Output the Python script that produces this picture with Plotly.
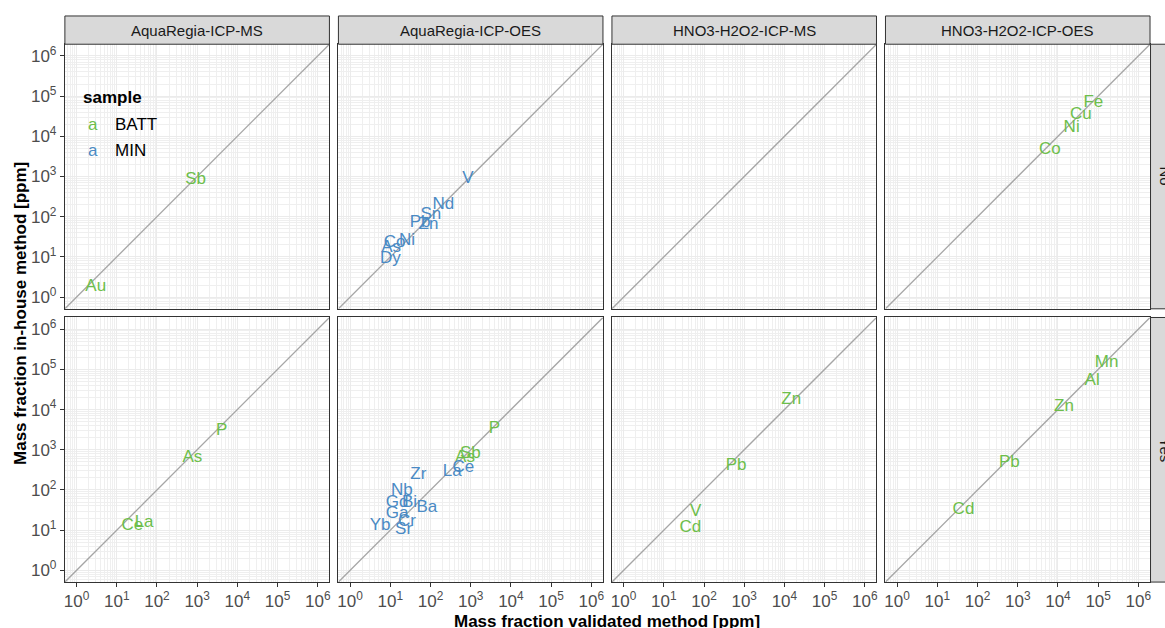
import plotly.graph_objects as go

W, H = 1165, 628


def px(x):
    return x / W


def py(y):
    return (H - y) / H


methods = ["AquaRegia-ICP-MS", "AquaRegia-ICP-OES", "HNO3-H2O2-ICP-MS", "HNO3-H2O2-ICP-OES"]
rows = ["No", "Yes"]

# Data (ppm)
element = ["Sb", "Au",
           "V", "Nd", "Sn", "Zn", "Pb", "Co", "Ni", "As", "Dy",
           "Fe", "Cu", "Ni", "Co",
           "P", "As", "Ce", "La",
           "P", "Sb", "As", "Ce", "La", "Zr", "Nb", "Gd", "Bi", "Ba", "Ga", "Cr", "Yb", "Sr",
           "Zn", "Pb", "V", "Cd",
           "Mn", "Al", "Zn", "Pb", "Cd"]
method = (["AquaRegia-ICP-MS"] * 2 + ["AquaRegia-ICP-OES"] * 9 + ["HNO3-H2O2-ICP-OES"] * 4 +
          ["AquaRegia-ICP-MS"] * 4 + ["AquaRegia-ICP-OES"] * 14 + ["HNO3-H2O2-ICP-MS"] * 4 +
          ["HNO3-H2O2-ICP-OES"] * 5)
row = (["No"] * 15 + ["Yes"] * 27)
sample = (["BATT"] * 2 + ["MIN"] * 9 + ["BATT"] * 4 + ["BATT"] * 4 + ["BATT"] * 3 + ["MIN"] * 11 +
          ["BATT"] * 4 + ["BATT"] * 5)
validated = [912, 3.0,
             851, 209, 102, 89, 55, 12.8, 26, 10.5, 10,
             75900, 37200, 21900, 6300,
             4070, 759, 24.5, 47.9,
             3890, 977, 724, 661, 347, 50, 19.5, 14.8, 30.2, 81, 14.8, 25.9, 5.6, 21.4,
             14800, 631, 61.7, 45.7,
             162000, 70800, 14100, 617, 44.7]
inhouse = [813, 1.8,
           871, 195, 112, 63, 69, 22.4, 25.6, 16.5, 8.9,
           69200, 33900, 16600, 4570,
           2950, 617, 12.9, 15.1,
           3310, 813, 617, 363, 288, 236, 97.7, 46.8, 46.8, 36.6, 26.3, 16.5, 13, 10.2,
           17400, 407, 28.2, 11.2,
           145000, 51300, 11700, 479, 33.1]

tick_vals = [1, 10, 100, 1000, 10000, 100000, 1000000]
tick_text = ["10<sup>%d</sup>" % i for i in range(7)]
colors = {"BATT": "#6DBE4B", "MIN": "#4A8AC4"}
rng = [-0.29, 6.29]

col_left = [64, 338, 612, 886]
row_top = [43.3, 317]
PW = 265

fig = go.Figure()
FONT = "Liberation Sans, Arial, sans-serif"

for r, rname in enumerate(rows):
    for c, m in enumerate(methods):
        idx = r * 4 + c + 1
        xa = "x" if idx == 1 else "x%d" % idx
        ya = "y" if idx == 1 else "y%d" % idx
        fig.add_trace(go.Scatter(x=[10 ** rng[0], 10 ** rng[1]], y=[10 ** rng[0], 10 ** rng[1]],
                                 mode="lines", line=dict(color="#A6A6A6", width=1.3),
                                 xaxis=xa, yaxis=ya, showlegend=False, hoverinfo="skip"))
        for s in ["BATT", "MIN"]:
            sel = [i for i in range(len(element)) if method[i] == m and row[i] == rname and sample[i] == s]
            if not sel:
                continue
            fig.add_trace(go.Scatter(x=[validated[i] for i in sel], y=[inhouse[i] for i in sel],
                                     text=[element[i] for i in sel], mode="text",
                                     textfont=dict(color=colors[s], size=17, family=FONT),
                                     textposition="middle center",
                                     xaxis=xa, yaxis=ya, showlegend=False))
        xd = [px(col_left[c]), px(col_left[c] + PW)]
        yd = [py(row_top[r] + PW), py(row_top[r])]
        common = dict(type="log", range=rng, showline=True, linecolor="#333333", linewidth=1,
                      mirror=True, showgrid=True, gridcolor="#EBEBEB", gridwidth=1,
                      tickvals=tick_vals, ticktext=tick_text, zeroline=False,
                      tickfont=dict(size=17, color="#4D4D4D", family=FONT),
                      minor=dict(showgrid=True, gridcolor="#EFEFEF", gridwidth=0.6, dtick="D1", ticks=""))
        xkey = "xaxis" if idx == 1 else "xaxis%d" % idx
        ykey = "yaxis" if idx == 1 else "yaxis%d" % idx
        xconf = dict(common, domain=xd, anchor=ya)
        yconf = dict(common, domain=yd, anchor=xa)
        if r == 1:
            xconf.update(ticks="outside", ticklen=4, tickcolor="#333333", showticklabels=True)
        else:
            xconf.update(ticks="", showticklabels=False)
        if c == 0:
            yconf.update(ticks="outside", ticklen=4, tickcolor="#333333", showticklabels=True)
        else:
            yconf.update(ticks="", showticklabels=False)
        fig.layout[xkey] = xconf
        fig.layout[ykey] = yconf

shapes = []
annotations = []
for c, m in enumerate(methods):
    x0 = px(col_left[c])
    x1 = px(col_left[c] + PW)
    shapes.append(dict(type="rect", xref="paper", yref="paper", x0=x0, x1=x1,
                       y0=py(43.3), y1=py(15),
                       fillcolor="#D9D9D9", line=dict(color="#333333", width=1)))
    annotations.append(dict(xref="paper", yref="paper", x=(x0 + x1) / 2, y=py(29.5),
                            text=m, showarrow=False, xanchor="center", yanchor="middle",
                            font=dict(size=15, color="#1A1A1A", family=FONT)))
for r, rname in enumerate(rows):
    y0 = py(row_top[r] + PW)
    y1 = py(row_top[r])
    shapes.append(dict(type="rect", xref="paper", yref="paper", x0=px(1151.5), x1=px(1195),
                       y0=y0, y1=y1, fillcolor="#D9D9D9", line=dict(color="#333333", width=1)))
    annotations.append(dict(xref="paper", yref="paper", x=px(1166), y=(y0 + y1) / 2,
                            text=rname, showarrow=False, textangle=90, xanchor="center",
                            yanchor="middle", font=dict(size=15, color="#1A1A1A", family=FONT)))

# legend drawn inside the first panel
shapes.append(dict(type="rect", xref="paper", yref="paper", x0=px(73), x1=px(166),
                   y0=py(165), y1=py(83), fillcolor="white", line=dict(width=0),
                   layer="below"))
annotations.append(dict(xref="paper", yref="paper", x=px(80), y=py(97), text="<b>sample</b>",
                        showarrow=False, xanchor="left", yanchor="middle",
                        font=dict(size=17, color="#000000", family=FONT)))
for s, yy in [("BATT", 124), ("MIN", 150)]:
    annotations.append(dict(xref="paper", yref="paper", x=px(92), y=py(yy), text="a",
                            showarrow=False, xanchor="center", yanchor="middle",
                            font=dict(size=17, color=colors[s], family=FONT)))
    annotations.append(dict(xref="paper", yref="paper", x=px(112), y=py(yy), text=s,
                            showarrow=False, xanchor="left", yanchor="middle",
                            font=dict(size=17, color="#000000", family=FONT)))

annotations.append(dict(xref="paper", yref="paper", x=px(607.5), y=py(621),
                        text="<b>Mass fraction validated method [ppm]</b>", showarrow=False,
                        xanchor="center", yanchor="middle",
                        font=dict(size=17, color="#000000", family=FONT)))
annotations.append(dict(xref="paper", yref="paper", x=px(19), y=py(312.5),
                        text="<b>Mass fraction in-house method [ppm]</b>", showarrow=False,
                        textangle=-90, xanchor="center", yanchor="middle",
                        font=dict(size=17, color="#000000", family=FONT)))

fig.update_layout(width=W, height=H, margin=dict(l=0, r=0, t=0, b=0),
                  paper_bgcolor="white", plot_bgcolor="white",
                  shapes=shapes, annotations=annotations, showlegend=False,
                  font=dict(family=FONT))
fig.write_html("out.html", config={"displayModeBar": False},
               post_script="document.body.style.margin='0';document.body.style.overflow='hidden';")
